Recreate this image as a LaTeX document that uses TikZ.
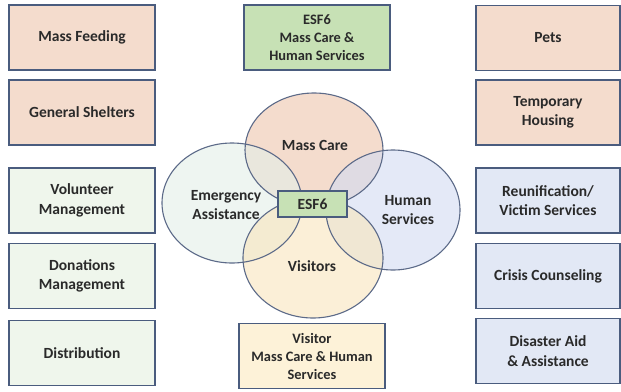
\documentclass[tikz,border=0pt]{standalone}
\usepackage{fontspec}
\setmainfont{Carlito}
\usetikzlibrary{shapes.geometric}
\definecolor{peachbox}{HTML}{F4DCCD}
\definecolor{greenbox}{HTML}{C7E1B5}
\definecolor{lgreenbox}{HTML}{EFF6EC}
\definecolor{lbluebox}{HTML}{E2E8F5}
\definecolor{visitbox}{HTML}{FDF2D8}
\definecolor{bordercol}{HTML}{4A5C7E}
\definecolor{txtcol}{HTML}{2A2A2A}
\definecolor{ellmc}{HTML}{EDC4AC}
\definecolor{ellea}{HTML}{E2EEE8}
\definecolor{ellhs}{HTML}{D2DBF2}
\definecolor{ellvi}{HTML}{F9E5BC}
\definecolor{ellborder}{HTML}{5C6A88}
\tikzset{
  box/.style={draw=bordercol, line width=1.1pt, minimum width=146pt, minimum height=65pt,
    inner sep=0pt, align=center, text=txtcol,
    font=\fontsize{15.5}{19.5}\selectfont\bfseries},
  smallbox/.style={box, font=\fontsize{14.4}{18}\selectfont\bfseries},
  ellfill/.style={ellipse, inner sep=0pt, draw=none, fill opacity=0.6},
  ellborder/.style={draw=ellborder, line width=1.1pt},
  elltext/.style={align=center, text=txtcol, font=\fontsize{15.5}{19.5}\selectfont\bfseries}
}
\begin{document}
\begin{tikzpicture}[x=1pt,y=-1pt]
\useasboundingbox (0,0) rectangle (621,391);
% left column
\node[box, fill=peachbox] (mf) at (82,37.5) {Mass Feeding};
\node[box, fill=peachbox] (gs) at (82,112.5) {General Shelters};
\node[box, fill=lgreenbox] (vm) at (82,200.5) {Volunteer\\Management};
\node[box, fill=lgreenbox] (dm) at (82,276) {Donations\\Management};
\node[box, fill=lgreenbox] (di) at (82,353) {Distribution};
% right column
\node[box, fill=peachbox, minimum width=144pt] (pe) at (548,38) {Pets};
\node[box, fill=peachbox, minimum width=144pt] (th) at (548,112.5) {Temporary\\Housing};
\node[box, fill=lbluebox, minimum width=144pt] (rv) at (548,200.5) {Reunification/\\Victim Services};
\node[box, fill=lbluebox, minimum width=144pt] (cc) at (548,276) {Crisis Counseling};
\node[box, fill=lbluebox, minimum width=144pt] (da) at (548,351) {Disaster Aid\\\& Assistance};
% top and bottom
\node[smallbox, fill=greenbox] (top) at (317,37.5) {ESF6\\Mass Care \&\\Human Services};
\node[smallbox, fill=visitbox] (bot) at (312,356) {Visitor\\Mass Care \& Human\\Services};
% ellipse fills
\node[ellfill, fill=ellmc, minimum width=138pt, minimum height=114pt] (mc) at (314,150) {};
\node[ellfill, fill=ellea, minimum width=140pt, minimum height=120pt] (ea) at (232,203) {};
\node[ellfill, fill=ellhs, minimum width=134pt, minimum height=120pt] (hs) at (393,210) {};
\node[ellfill, fill=ellvi, minimum width=140pt, minimum height=120pt] (vi) at (313,258) {};
% ellipse borders
\draw[ellborder] (mc.center) ellipse [x radius=69pt, y radius=57pt];
\draw[ellborder] (ea.center) ellipse [x radius=70pt, y radius=60pt];
\draw[ellborder] (hs.center) ellipse [x radius=67pt, y radius=60pt];
\draw[ellborder] (vi.center) ellipse [x radius=70pt, y radius=60pt];
% labels
\node[elltext] (mcl) at (315,145) {Mass Care};
\node[elltext] (eal) at (226,205) {Emergency\\Assistance};
\node[elltext] (hsl) at (408,210) {Human\\Services};
\node[elltext] (vil) at (312,266) {Visitors};
% center box
\node[box, fill=greenbox, minimum width=69pt, minimum height=26pt] (esf) at (312.5,204) {ESF6};
\end{tikzpicture}
\end{document}
